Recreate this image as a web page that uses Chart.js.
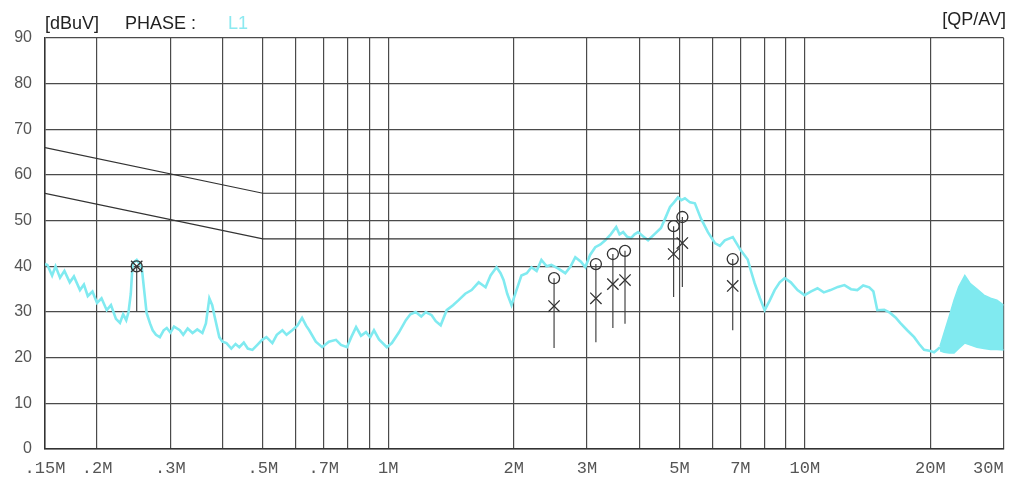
<!DOCTYPE html>
<html>
<head>
<meta charset="utf-8">
<script src="https://cdn.jsdelivr.net/npm/chart.js@4.4.0/dist/chart.umd.min.js"></script>
<style>
  html, body { margin: 0; padding: 0; background: #fff; }
  #wrap { width: 1013px; height: 483px; position: relative; }
</style>
</head>
<body>
<div id="wrap"><canvas id="mycanvas"></canvas></div>
<script>
// frequency grid (MHz) and the ones that carry a label
var gridFreqs = [0.15, 0.2, 0.3, 0.4, 0.5, 0.6, 0.7, 0.8, 0.9, 1, 2, 3, 4, 5, 6, 7, 8, 9, 10, 20, 30];
var tickLabels = {0.15: ".15M", 0.2: ".2M", 0.3: ".3M", 0.5: ".5M", 0.7: ".7M", 1: "1M",
                  2: "2M", 3: "3M", 5: "5M", 7: "7M", 10: "10M", 20: "20M", 30: "30M\u00a0\u00a0\u00a0"};

// measured trace (L1), MHz / dBuV
var traceFreq = [0.150, 0.152, 0.156, 0.159, 0.163, 0.167, 0.172, 0.176, 0.182, 0.186, 0.190, 0.195,
  0.200, 0.205, 0.211, 0.216, 0.222, 0.227, 0.231, 0.235, 0.238, 0.241, 0.2435, 0.249, 0.253, 0.256,
  0.260, 0.263, 0.268, 0.272, 0.277, 0.283, 0.289, 0.294, 0.300, 0.306, 0.316, 0.322, 0.330, 0.339,
  0.348, 0.358, 0.365, 0.372, 0.378, 0.383, 0.393, 0.400, 0.409, 0.420, 0.430, 0.439, 0.450, 0.460,
  0.472, 0.485, 0.498, 0.510, 0.527, 0.540, 0.557, 0.570, 0.588, 0.605, 0.621, 0.635, 0.646, 0.670,
  0.694, 0.720, 0.749, 0.770, 0.796, 0.815, 0.837, 0.860, 0.884, 0.905, 0.924, 0.950, 0.992, 1.020,
  1.060, 1.102, 1.130, 1.164, 1.200, 1.230, 1.271, 1.300, 1.336, 1.381, 1.430, 1.475, 1.530, 1.585,
  1.648, 1.712, 1.760, 1.819, 1.860, 1.891, 1.930, 1.976, 2.031, 2.087, 2.150, 2.206, 2.270, 2.331,
  2.400, 2.463, 2.560, 2.660, 2.740, 2.811, 2.900, 2.971, 3.050, 3.139, 3.230, 3.317, 3.420, 3.524,
  3.590, 3.662, 3.740, 3.826, 3.900, 3.977, 4.100, 4.203, 4.350, 4.514, 4.620, 4.745, 4.850, 4.958,
  5.050, 5.152, 5.300, 5.444, 5.627, 5.850, 6.079, 6.250, 6.423, 6.713, 7.015, 7.290, 7.410, 7.575,
  7.800, 8.006, 8.230, 8.459, 8.700, 8.940, 9.250, 9.600, 9.980, 10.35, 10.72, 11.10, 11.52, 12.00,
  12.44, 12.90, 13.36, 13.80, 14.27, 14.60, 14.92, 15.50, 16.02, 16.50, 16.93, 17.60, 18.29, 18.80,
  19.32, 19.90, 20.42, 20.80, 21.10];
var traceLevel = [40.5, 40.3, 38.0, 40.0, 37.5, 39.0, 36.5, 37.8, 34.8, 36.0, 33.5, 34.5,
  32.0, 33.0, 30.4, 31.5, 28.5, 27.6, 29.5, 28.2, 30.0, 34.0, 40.7, 41.4, 40.5, 39.8,
  34.0, 29.8, 27.5, 26.0, 25.0, 24.5, 26.0, 26.5, 25.5, 26.8, 26.0, 25.0, 26.4, 25.4,
  26.2, 25.4, 27.5, 33.0, 31.5, 29.0, 24.5, 23.5, 23.2, 22.0, 23.0, 22.3, 23.3, 22.0,
  21.7, 22.8, 23.9, 24.5, 23.2, 25.0, 26.0, 25.0, 26.0, 27.0, 28.7, 27.0, 26.0, 23.5,
  22.3, 23.5, 23.9, 22.8, 22.3, 24.5, 26.7, 24.8, 25.6, 24.5, 26.0, 24.0, 22.3, 23.2,
  25.5, 28.2, 29.5, 30.0, 29.0, 30.0, 29.3, 28.0, 27.1, 30.4, 31.5, 32.6, 34.0, 34.8,
  36.5, 35.4, 38.0, 39.8, 38.5, 37.0, 34.0, 31.5, 34.8, 38.0, 38.5, 39.8, 39.0, 41.4,
  40.0, 40.3, 39.5, 38.5, 40.0, 42.0, 41.0, 39.8, 42.5, 44.2, 44.8, 45.7, 47.0, 48.6,
  47.0, 47.5, 46.5, 46.2, 47.0, 47.5, 46.5, 45.7, 47.0, 48.4, 50.5, 53.0, 54.0, 55.1,
  54.5, 54.9, 54.0, 53.8, 50.5, 47.5, 45.1, 44.5, 45.7, 46.4, 43.5, 41.5, 39.2, 36.3,
  33.0, 30.4, 32.5, 34.8, 36.5, 37.4, 36.5, 34.8, 33.7, 34.5, 35.2, 34.3, 34.8, 35.5,
  35.9, 35.0, 34.8, 35.8, 35.4, 34.5, 30.4, 30.5, 29.8, 28.8, 27.6, 26.0, 24.5, 23.0,
  21.7, 21.5, 21.2, 21.8, 22.3];

// dense band at the top end (upper / lower edge)
var bandFreq  = [21.10, 21.58, 22.20, 22.80, 23.40, 24.20, 24.90, 25.88, 26.90, 27.90, 28.90, 30.00];
var bandUpper = [22.5, 25.4, 29.0, 32.6, 35.5, 38.0, 36.3, 35.0, 33.7, 33.0, 32.6, 31.5];
var bandLower = [21.5, 21.2, 21.0, 21.0, 22.0, 23.2, 22.8, 22.3, 22.0, 21.8, 21.8, 21.7];

// limit lines (the part above 5M sits on the 60 / 50 grid lines)
var limitFreq = [0.15, 0.5, 5];
var qpLimit   = [66, 56, 56];
var avLimit   = [56, 46, 46];

// final measurements
var markFreq = [0.249, 2.50, 3.15, 3.46, 3.70, 4.84, 5.08, 6.71];
var markQP   = [40.0, 37.4, 40.5, 42.7, 43.4, 48.8, 50.8, 41.6];
var markAV   = [40.0, 31.3, 33.0, 36.1, 37.0, 42.7, 45.1, 35.7];
var markLow  = [30.0, 22.1, 23.4, 26.5, 27.4, 33.3, 35.5, 26.0];

function pts(xs, ys) {
    var out = [];
    for (var i = 0; i < xs.length; i++) out.push({x: xs[i], y: ys[i]});
    return out;
}

var stems = [];
for (var i = 0; i < markFreq.length; i++) {
    stems.push({x: markFreq[i], y: markQP[i]});
    stems.push({x: markFreq[i], y: markLow[i]});
    stems.push({x: markFreq[i], y: null});
}

var headerText = {
    id: "headerText",
    afterDraw: function(chart) {
        var ctx = chart.ctx;
        ctx.save();
        ctx.font = "18px 'Liberation Sans', Arial, sans-serif";
        ctx.textBaseline = "middle";
        ctx.fillStyle = "#222";
        ctx.textAlign = "left";
        ctx.fillText("[dBuV]", 45, 24);
        ctx.fillText("PHASE :", 125, 24);
        ctx.fillStyle = "#8ce9f0";
        ctx.fillText("L1", 228, 24);
        ctx.fillStyle = "#222";
        ctx.textAlign = "right";
        ctx.fillText("[QP/AV]", 1006, 20);
        ctx.restore();
    }
};

var gridColor = "#4a4a4a";
var ctx = document.getElementById("mycanvas");

var chart = new Chart(ctx, {
    type: "line",
    data: {
        datasets: [
            {
                label: "stems", data: stems, order: 1,
                borderColor: "#444", borderWidth: 1.2, pointRadius: 0, spanGaps: false
            },
            {
                label: "QP", data: pts(markFreq, markQP), order: 0, showLine: false,
                pointStyle: "circle", pointRadius: 5.5, pointBorderWidth: 1.3,
                pointBorderColor: "#333", pointBackgroundColor: "rgba(0,0,0,0)"
            },
            {
                label: "AV", data: pts(markFreq, markAV), order: 0, showLine: false,
                pointStyle: "crossRot", pointRadius: 8, pointBorderWidth: 1.3,
                pointBorderColor: "#333"
            },
            {
                label: "QP limit", data: pts(limitFreq, qpLimit), order: 2,
                borderColor: "#333", borderWidth: 1.2, pointRadius: 0
            },
            {
                label: "AV limit", data: pts(limitFreq, avLimit), order: 2,
                borderColor: "#333", borderWidth: 1.2, pointRadius: 0
            },
            {
                label: "L1", data: pts(traceFreq, traceLevel), order: 3,
                borderColor: "#80eaf0", borderWidth: 2.6, pointRadius: 0
            },
            {
                label: "band top", data: pts(bandFreq, bandUpper), order: 3,
                borderColor: "#80eaf0", borderWidth: 1.5, pointRadius: 0,
                fill: "+1", backgroundColor: "#80eaf0"
            },
            {
                label: "band bottom", data: pts(bandFreq, bandLower), order: 3,
                borderColor: "#80eaf0", borderWidth: 1.5, pointRadius: 0
            }
        ]
    },
    plugins: [headerText],
    options: {
        responsive: true,
        maintainAspectRatio: false,
        animation: false,
        layout: { padding: { left: 0, right: 6, top: 38, bottom: 0 } },
        plugins: { legend: { display: false }, tooltip: { enabled: false } },
        scales: {
            x: {
                type: "logarithmic",
                min: 0.15,
                max: 30,
                afterBuildTicks: function(scale) {
                    scale.ticks = gridFreqs.map(function(v) { return {value: v}; });
                },
                afterFit: function(scale) {
                    scale.height = 34;
                    scale.paddingLeft = 0;
                    scale.paddingRight = 0;
                },
                grid: { color: gridColor, lineWidth: 1.2, drawTicks: false },
                border: { color: "#333", width: 1.5 },
                ticks: {
                    autoSkip: false, maxRotation: 0, padding: 9,
                    color: "#555",
                    font: { family: "'Liberation Mono', 'Courier New', monospace", size: 17 },
                    callback: function(value) { return tickLabels[value] || ""; }
                }
            },
            y: {
                min: 0,
                max: 90,
                afterFit: function(scale) { scale.width = 45; },
                grid: { color: gridColor, lineWidth: 1.2, drawTicks: false },
                border: { color: "#333", width: 1.5 },
                ticks: {
                    stepSize: 10, padding: 13, color: "#555",
                    font: { family: "'Liberation Sans', Arial, sans-serif", size: 16 }
                }
            }
        }
    }
});
</script>
</body>
</html>
